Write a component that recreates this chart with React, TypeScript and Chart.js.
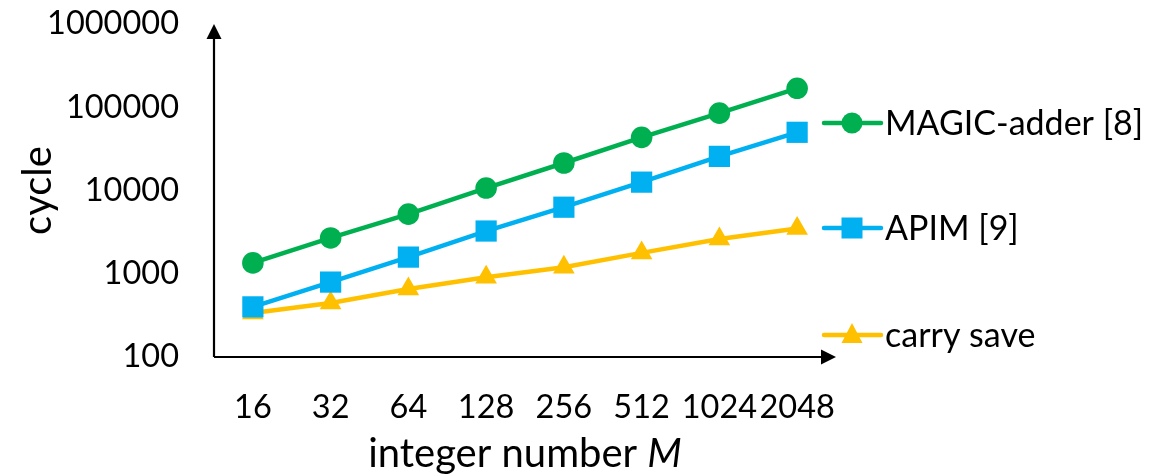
import React, { useEffect, useRef } from 'react';
import { Chart, registerables } from 'chart.js';

Chart.register(...registerables);

const categories = ['16', '32', '64', '128', '256', '512', '1024', '2048'];
const magicAdder = [1350, 2690, 5200, 10700, 21400, 43500, 85000, 169000];
const apim = [400, 794, 1585, 3260, 6300, 12600, 25700, 50000];
const carrySave = [337, 445, 655, 910, 1200, 1780, 2620, 3500];
const yTicks = [100, 1000, 10000, 100000, 1000000];
const seriesNames = ['MAGIC-adder [8]', 'APIM [9]', 'carry save'];
const seriesColors = ['#00B050', '#00B0F0', '#FFC000'];
const seriesShapes = ['circle', 'rect', 'triangle'];
const xTitle = 'integer number ';
const xTitleItalic = 'M';
const yTitle = 'cycle';

const FONT = 'Lato';
const FS = 32.5;
const LEG_FS = 34;
const TITLE_FS = 40;

function drawMarker(ctx: CanvasRenderingContext2D, shape: string, x: number, y: number, color: string) {
  ctx.save();
  ctx.fillStyle = color;
  ctx.beginPath();
  if (shape === 'circle') {
    ctx.arc(x, y, 10.5, 0, Math.PI * 2);
  } else if (shape === 'rect') {
    ctx.rect(x - 10.5, y - 10.5, 21, 21);
  } else {
    ctx.moveTo(x, y - 12);
    ctx.lineTo(x + 10.5, y + 8);
    ctx.lineTo(x - 10.5, y + 8);
    ctx.closePath();
  }
  ctx.fill();
  ctx.restore();
}

const decorPlugin = {
  id: 'decor',
  afterDraw(chart: any) {
    const ctx: CanvasRenderingContext2D = chart.ctx;
    const { left, right, top, bottom } = chart.chartArea;
    ctx.save();
    // axes
    ctx.strokeStyle = '#000';
    ctx.fillStyle = '#000';
    ctx.lineWidth = 2.2;
    ctx.beginPath();
    ctx.moveTo(left, bottom);
    ctx.lineTo(left, top + 12);
    ctx.moveTo(left, bottom);
    ctx.lineTo(right - 12, bottom);
    ctx.stroke();
    ctx.beginPath();
    ctx.moveTo(left, top);
    ctx.lineTo(left + 7.5, top + 15);
    ctx.lineTo(left - 7.5, top + 15);
    ctx.closePath();
    ctx.fill();
    ctx.beginPath();
    ctx.moveTo(right, bottom);
    ctx.lineTo(right - 15, bottom - 7.5);
    ctx.lineTo(right - 15, bottom + 7.5);
    ctx.closePath();
    ctx.fill();

    // legend
    const rows = [123, 228, 335];
    ctx.font = `${LEG_FS}px ${FONT}`;
    ctx.textBaseline = 'middle';
    ctx.textAlign = 'left';
    for (let i = 0; i < seriesNames.length; i++) {
      const y = rows[i];
      ctx.strokeStyle = seriesColors[i];
      ctx.lineWidth = 4.5;
      ctx.lineCap = 'round';
      ctx.beginPath();
      ctx.moveTo(right - 12, y);
      ctx.lineTo(right + 45, y);
      ctx.stroke();
      drawMarker(ctx, seriesShapes[i], right + 16, y, seriesColors[i]);
      ctx.fillStyle = '#000';
      ctx.fillText(seriesNames[i], right + 49, y + 1);
    }

    // x title
    ctx.fillStyle = '#000';
    ctx.textBaseline = 'alphabetic';
    ctx.font = `${TITLE_FS}px ${FONT}`;
    const w1 = ctx.measureText(xTitle).width;
    ctx.font = `italic ${TITLE_FS}px ${FONT}`;
    const w2 = ctx.measureText(xTitleItalic).width;
    const cx = (left + right) / 2;
    const sx = cx - (w1 + w2) / 2;
    ctx.font = `${TITLE_FS}px ${FONT}`;
    ctx.fillText(xTitle, sx, 467);
    ctx.font = `italic ${TITLE_FS}px ${FONT}`;
    ctx.fillText(xTitleItalic, sx + w1, 467);

    // y title
    ctx.font = `${TITLE_FS}px ${FONT}`;
    ctx.textBaseline = 'middle';
    ctx.translate(38, (top + bottom) / 2);
    ctx.rotate(-Math.PI / 2);
    ctx.textAlign = 'center';
    ctx.fillText(yTitle, 0, 0);
    ctx.restore();
  },
};

export default function App() {
  const ref = useRef<HTMLCanvasElement>(null);
  useEffect(() => {
    if (!ref.current) return;
    const datasets = [magicAdder, apim, carrySave].map((d, i) => ({
      label: seriesNames[i],
      data: d,
      borderColor: seriesColors[i],
      backgroundColor: seriesColors[i],
      pointBackgroundColor: seriesColors[i],
      pointBorderColor: seriesColors[i],
      pointBorderWidth: 0,
      pointStyle: seriesShapes[i],
      pointRadius: i === 0 ? 10.8 : i === 1 ? 15 : 12.5,
      borderWidth: 4.5,
      tension: 0,
      clip: false as any,
    }));
    const chart = new Chart(ref.current, {
      type: 'line',
      data: { labels: categories, datasets },
      plugins: [decorPlugin],
      options: {
        responsive: false,
        animation: false,
        layout: { padding: { top: 24, right: 331, left: 0, bottom: 0 } },
        plugins: { legend: { display: false }, tooltip: { enabled: false } },
        scales: {
          x: {
            type: 'category',
            offset: true,
            grid: { display: false, drawTicks: false },
            border: { display: false },
            ticks: { color: '#000', font: { family: FONT, size: FS }, padding: 31, maxRotation: 0, autoSkip: false },
            afterFit: (s: any) => { s.height = 119; s.paddingLeft = 0; s.paddingRight = 0; },
          },
          y: {
            type: 'logarithmic',
            min: 100,
            max: 1000000,
            grid: { display: false, drawTicks: false },
            border: { display: false },
            afterBuildTicks: (s: any) => { s.ticks = yTicks.map((v) => ({ value: v })); },
            ticks: { color: '#000', font: { family: FONT, size: FS }, padding: 35, callback: (v: any) => String(v) },
            afterFit: (s: any) => { s.width = 214; s.paddingTop = 0; s.paddingBottom = 0; },
          },
        },
      },
    });
    return () => chart.destroy();
  }, []);
  return (
    <div style={{ position: 'absolute', left: 0, top: 0, width: 1167, height: 476, background: '#fff' }}>
      <canvas ref={ref} width={1167} height={476} />
    </div>
  );
}
